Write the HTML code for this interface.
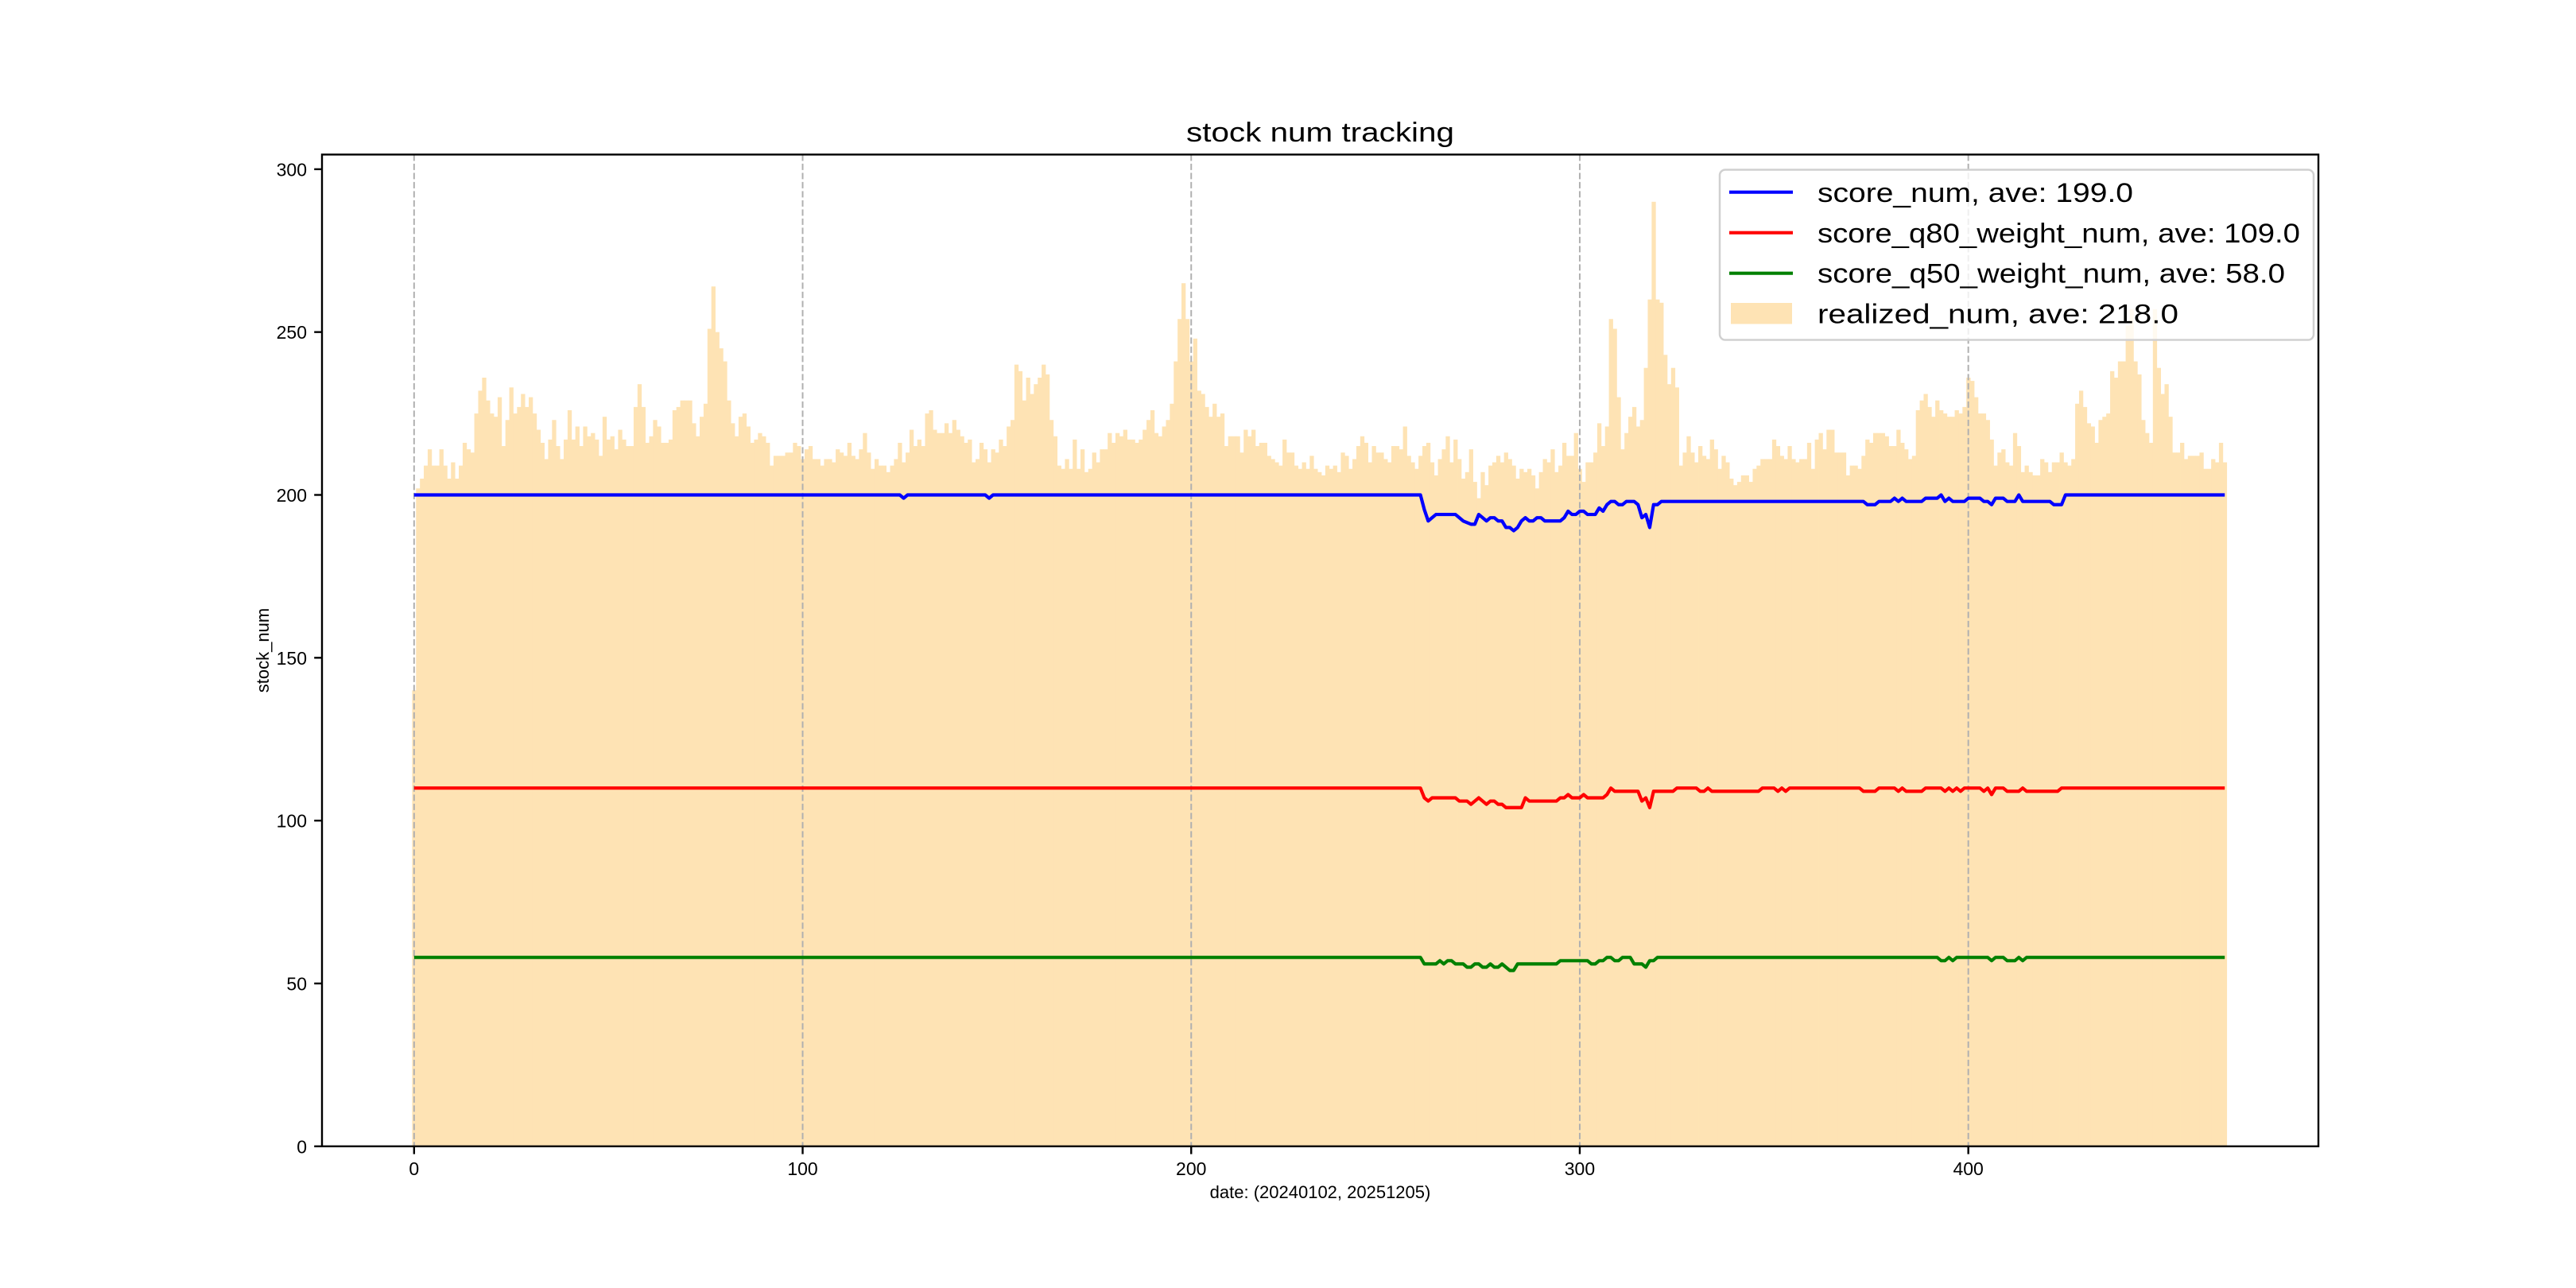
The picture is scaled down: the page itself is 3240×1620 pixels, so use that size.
<!DOCTYPE html>
<html>
<head>
<meta charset="utf-8">
<style>
  html,body{margin:0;padding:0;background:#fff;}
  svg{display:block;}
  text{font-family:"Liberation Sans","WenQuanYi Zen Hei",sans-serif;fill:#000;}
</style>
</head>
<body>
<svg id="chart" width="3240" height="1620" viewBox="0 0 3240 1620" xmlns="http://www.w3.org/2000/svg">
  <rect x="0" y="0" width="3240" height="1620" fill="#ffffff"/>
  <g id="bars"></g>
  <g id="grid"></g>
  <g id="lines"></g>
  <rect x="405" y="194.4" width="2511" height="1247.4" fill="none" stroke="#000" stroke-width="2.4"/>
  <g id="yticks"></g>
  <g id="xticks"></g>
  <text x="1660.5" y="178" font-size="34" text-anchor="middle" textLength="337" lengthAdjust="spacingAndGlyphs">stock num tracking</text>
  <text x="1660.5" y="1507" font-size="22" text-anchor="middle">date: (20240102, 20251205)</text>
  <text x="0" y="0" font-size="22" text-anchor="middle" transform="translate(338,818) rotate(-90)">stock_num</text>
  <g>
    <rect x="2163" y="213.5" width="747" height="214" rx="7" fill="#ffffff" fill-opacity="0.8" stroke="#d0d0d0" stroke-width="2.5"/>
    <line x1="2175" y1="241.7" x2="2255" y2="241.7" stroke="#0000ff" stroke-width="4.2"/>
    <text x="2286" y="254" font-size="34" textLength="397" lengthAdjust="spacingAndGlyphs">score_num, ave: 199.0</text>
    <line x1="2175" y1="292.7" x2="2255" y2="292.7" stroke="#ff0000" stroke-width="4.2"/>
    <text x="2286" y="305" font-size="34" textLength="607" lengthAdjust="spacingAndGlyphs">score_q80_weight_num, ave: 109.0</text>
    <line x1="2175" y1="343.7" x2="2255" y2="343.7" stroke="#008000" stroke-width="4.2"/>
    <text x="2286" y="355.5" font-size="34" textLength="588" lengthAdjust="spacingAndGlyphs">score_q50_weight_num, ave: 58.0</text>
    <rect x="2177" y="381" width="77" height="26.5" fill="#fee3b4"/>
    <text x="2286" y="406.5" font-size="34" textLength="454" lengthAdjust="spacingAndGlyphs">realized_num, ave: 218.0</text>
  </g>
</svg>
<script>
const realizedNum = [
140,202,205,209,214,209,209,214,209,205,210,205,209,216,214,213,225,232,236,229,
225,224,230,215,223,233,225,227,231,227,230,225,220,216,211,217,223,215,211,217,
226,217,221,215,221,218,219,217,212,224,217,218,214,220,217,215,215,227,234,227,
216,218,223,221,216,216,217,226,227,229,229,229,222,218,224,228,251,264,250,245,
241,229,222,218,224,225,221,216,217,219,218,216,209,212,212,212,213,213,216,215,
211,214,215,211,211,209,211,211,210,214,213,212,216,212,211,214,219,213,208,211,
209,209,207,209,211,216,210,213,220,215,217,215,225,226,220,219,219,222,219,223,
220,218,216,217,210,211,216,214,210,214,213,217,215,221,223,240,238,229,236,231,
234,236,240,237,223,218,209,208,211,208,217,208,214,207,208,213,210,214,214,219,
216,219,218,220,217,217,216,217,220,223,226,219,218,221,223,228,241,254,265,254,
241,248,232,231,227,224,228,224,225,215,218,218,218,213,220,218,220,215,216,216,
212,211,210,209,217,213,213,209,208,210,208,212,208,207,206,209,208,209,207,213,
212,208,211,215,218,216,210,215,213,213,211,210,215,215,214,221,212,210,208,212,
215,216,210,206,211,214,218,210,217,211,205,207,214,204,199,207,203,209,210,212,
210,213,211,209,205,208,207,208,206,202,207,211,210,214,207,209,216,212,212,219,
208,204,210,210,213,222,215,221,254,251,230,214,219,224,227,221,223,239,260,290,
260,259,243,234,239,233,209,213,218,213,210,215,212,211,217,214,208,212,210,205,
203,204,206,206,204,208,209,211,211,211,217,215,212,211,215,211,210,211,211,216,
208,217,219,214,220,220,213,213,213,206,209,209,208,212,217,216,219,219,219,218,
215,215,220,216,214,211,212,226,229,231,227,224,229,226,225,224,224,226,225,227,
236,235,230,225,225,223,217,209,213,214,210,209,219,215,207,209,207,206,206,211,
210,207,210,210,213,210,209,211,228,232,227,222,221,216,223,224,225,238,236,241,
241,252,257,241,237,223,219,216,257,239,231,234,224,213,213,216,211,212,212,212,
213,208,208,211,210,216,210
];
const scoreNum = [
200,200,200,200,200,200,200,200,200,200,200,200,200,200,200,200,200,200,200,200,
200,200,200,200,200,200,200,200,200,200,200,200,200,200,200,200,200,200,200,200,
200,200,200,200,200,200,200,200,200,200,200,200,200,200,200,200,200,200,200,200,
200,200,200,200,200,200,200,200,200,200,200,200,200,200,200,200,200,200,200,200,
200,200,200,200,200,200,200,200,200,200,200,200,200,200,200,200,200,200,200,200,
200,200,200,200,200,200,200,200,200,200,200,200,200,200,200,200,200,200,200,200,
200,200,200,200,200,200,199,200,200,200,200,200,200,200,200,200,200,200,200,200,
200,200,200,200,200,200,200,200,199,200,200,200,200,200,200,200,200,200,200,200,
200,200,200,200,200,200,200,200,200,200,200,200,200,200,200,200,200,200,200,200,
200,200,200,200,200,200,200,200,200,200,200,200,200,200,200,200,200,200,200,200,
200,200,200,200,200,200,200,200,200,200,200,200,200,200,200,200,200,200,200,200,
200,200,200,200,200,200,200,200,200,200,200,200,200,200,200,200,200,200,200,200,
200,200,200,200,200,200,200,200,200,200,200,200,200,200,200,200,200,200,200,200,
195.5,192,193,194,194,194,194,194,194,193,192,191.5,191,191,194,193,192,193,193,192,
192,190,190,189,190,192,193,192,192,193,193,192,192,192,192,192,193,195,194,194,
195,195,194,194,194,196,195,197,198,198,197,197,198,198,198,197,193,194,190,197,
197,198,198,198,198,198,198,198,198,198,198,198,198,198,198,198,198,198,198,198,
198,198,198,198,198,198,198,198,198,198,198,198,198,198,198,198,198,198,198,198,
198,198,198,198,198,198,198,198,198,198,
198,198,198,198,197,197,197,198,198,198,198,199,198,199,198,198,198,198,198,199,
199,199,199,200,198,199,198,198,198,198,199,199,199,199,198,198,197,199,199,199,
198,198,198,200,198,198,198,198,198,198,198,198,197,197,197,200,200,200,200,200,
200,200,200,200,200,200,200,200,200,200,200,200,200,200,200,200,200,200,200,200,
200,200,200,200,200,200,200,200,200,200,200,200,200,200,200,200,200
];
const scoreQ80WeightNum = [
110,110,110,110,110,110,110,110,110,110,110,110,110,110,110,110,110,110,110,110,
110,110,110,110,110,110,110,110,110,110,110,110,110,110,110,110,110,110,110,110,
110,110,110,110,110,110,110,110,110,110,110,110,110,110,110,110,110,110,110,110,
110,110,110,110,110,110,110,110,110,110,110,110,110,110,110,110,110,110,110,110,
110,110,110,110,110,110,110,110,110,110,110,110,110,110,110,110,110,110,110,110,
110,110,110,110,110,110,110,110,110,110,110,110,110,110,110,110,110,110,110,110,
110,110,110,110,110,110,110,110,110,110,110,110,110,110,110,110,110,110,110,110,
110,110,110,110,110,110,110,110,110,110,110,110,110,110,110,110,110,110,110,110,
110,110,110,110,110,110,110,110,110,110,110,110,110,110,110,110,110,110,110,110,
110,110,110,110,110,110,110,110,110,110,110,110,110,110,110,110,110,110,110,110,
110,110,110,110,110,110,110,110,110,110,110,110,110,110,110,110,110,110,110,110,
110,110,110,110,110,110,110,110,110,110,110,110,110,110,110,110,110,110,110,110,
110,110,110,110,110,110,110,110,110,110,110,110,110,110,110,110,110,110,110,110,
107,106,107,107,107,107,107,107,107,106,106,106,105,106,107,106,105,106,106,105,
105,104,104,104,104,104,107,106,106,106,106,106,106,106,106,107,107,108,107,107,
107,108,107,107,107,107,107,108,110,109,109,109,109,109,109,109,106,107,104,109,
109,109,109,109,109,110,110,110,110,110,110,109,109,110,109,109,109,109,109,109,
109,109,109,109,109,109,109,110,110,110,110,109,110,109,110,110,110,110,110,110,
110,110,110,110,110,110,110,110,110,110,110,110,110,109,109,109,109,110,110,110,
110,110,109,110,109,109,109,109,109,110,110,110,110,110,109,110,109,110,109,110,
110,110,110,110,109,110,108,110,110,110,109,109,109,109,110,109,109,109,109,109,
109,109,109,109,110,110,110,110,110,110,110,110,110,110,110,110,110,110,110,110,
110,110,110,110,110,110,110,110,110,110,110,110,110,110,110,110,110,
110,110,110,110,110,110,110,110,110,110
];
const scoreQ50WeightNum = [
58,58,58,58,58,58,58,58,58,58,58,58,58,58,58,58,58,58,58,58,
58,58,58,58,58,58,58,58,58,58,58,58,58,58,58,58,58,58,58,58,
58,58,58,58,58,58,58,58,58,58,58,58,58,58,58,58,58,58,58,58,
58,58,58,58,58,58,58,58,58,58,58,58,58,58,58,58,58,58,58,58,
58,58,58,58,58,58,58,58,58,58,58,58,58,58,58,58,58,58,58,58,
58,58,58,58,58,58,58,58,58,58,58,58,58,58,58,58,58,58,58,58,
58,58,58,58,58,58,58,58,58,58,58,58,58,58,58,58,58,58,58,58,
58,58,58,58,58,58,58,58,58,58,58,58,58,58,58,58,58,58,58,58,
58,58,58,58,58,58,58,58,58,58,58,58,58,58,58,58,58,58,58,58,
58,58,58,58,58,58,58,58,58,58,58,58,58,58,58,58,58,58,58,58,
58,58,58,58,58,58,58,58,58,58,58,58,58,58,58,58,58,58,58,58,
58,58,58,58,58,58,58,58,58,58,58,58,58,58,58,58,58,58,58,58,
58,58,58,58,58,58,58,58,58,58,58,58,58,58,58,58,58,58,58,58,
56,56,56,56,57,56,57,57,56,56,56,55,55,56,56,55,55,56,55,55,
56,55,54,54,56,56,56,56,56,56,56,56,56,56,56,57,57,57,57,57,
57,57,57,56,56,57,57,58,58,57,57,58,58,58,56,56,56,55,57,57,
58,58,58,58,58,58,58,58,58,58,58,58,58,58,58,58,58,58,58,58,
58,58,58,58,58,58,58,58,58,58,58,58,58,58,58,58,58,58,58,58,
58,58,58,58,58,58,58,58,58,58,58,58,58,58,58,58,58,58,58,58,
58,58,58,58,58,58,58,58,58,58,
58,58,58,57,57,58,57,58,58,58,58,58,58,58,58,58,57,58,58,58,
57,57,57,58,57,58,58,58,58,58,58,58,58,58,58,58,58,58,58,58,
58,58,58,58,58,58,58,58,58,58,58,58,58,58,58,58,58,58,58,58,
58,58,58,58,58,58,58,58,58,58,58,58,58,58,58,58,58
];
const yTickValues = [0, 50, 100, 150, 200, 250, 300];
const yTickLabels = ["0", "50", "100", "150", "200", "250", "300"];
const xTickValues = [0, 100, 200, 300, 400];
const xTickLabels = ["0", "100", "200", "300", "400"];

const NS = "http://www.w3.org/2000/svg";
const AX_L = 405, AX_R = 2916, AX_T = 194.4, AX_B = 1441.8;
const X_MIN = -23.7, X_MAX = 490.1, Y_MIN = 0, Y_MAX = 304.5;
function xScale(i){ return AX_L + (i - X_MIN) / (X_MAX - X_MIN) * (AX_R - AX_L); }
function yScale(v){ return AX_B - (v - Y_MIN) / (Y_MAX - Y_MIN) * (AX_B - AX_T); }
function mk(tag, attrs){ const e = document.createElementNS(NS, tag); for (const k in attrs) e.setAttribute(k, attrs[k]); return e; }

const barsG = document.getElementById('bars');
realizedNum.forEach(function(v, i){
  const x0 = xScale(i - 0.5), x1 = xScale(i + 0.5);
  const r = mk('rect', {x: x0.toFixed(2), y: yScale(v).toFixed(2), width: (x1 - x0 + 0.4).toFixed(2), height: (AX_B - yScale(v)).toFixed(2), fill: '#fee3b4'});
  
  
  barsG.appendChild(r);
});

const gridG = document.getElementById('grid');
xTickValues.forEach(function(t){
  const x = xScale(t);
  const l = mk('line', {x1: x, y1: AX_T, x2: x, y2: AX_B, stroke: '#b0b0b0', 'stroke-width': 2, 'stroke-dasharray': '8,3.5'});
  
  
  gridG.appendChild(l);
});

const linesG = document.getElementById('lines');
function drawLine(arr, color, name){
  const pts = arr.map(function(v, i){ return xScale(i).toFixed(2) + ',' + yScale(v).toFixed(2); }).join(' ');
  const p = mk('polyline', {points: pts, fill: 'none', stroke: color, 'stroke-width': 4.2, 'stroke-linejoin': 'round'});
  
  
  linesG.appendChild(p);
}
drawLine(scoreNum, '#0000ff', 'score-num-line');
drawLine(scoreQ80WeightNum, '#ff0000', 'score-q80-weight-num-line');
drawLine(scoreQ50WeightNum, '#008000', 'score-q50-weight-num-line');

const yG = document.getElementById('yticks');
yTickValues.forEach(function(t, k){
  const y = yScale(t);
  const tk = mk('line', {x1: AX_L - 9.8, y1: y, x2: AX_L, y2: y, stroke: '#000', 'stroke-width': 2.4});
  
  
  yG.appendChild(tk);
  const tx = mk('text', {x: 386, y: y + 8.5, 'font-size': 23, 'text-anchor': 'end'});
  tx.textContent = yTickLabels[k];
  
  
  yG.appendChild(tx);
});

const xG = document.getElementById('xticks');
xTickValues.forEach(function(t, k){
  const x = xScale(t);
  const tk = mk('line', {x1: x, y1: AX_B, x2: x, y2: AX_B + 9.8, stroke: '#000', 'stroke-width': 2.4});
  
  
  xG.appendChild(tk);
  const tx = mk('text', {x: x, y: 1478, 'font-size': 23, 'text-anchor': 'middle'});
  tx.textContent = xTickLabels[k];
  
  
  xG.appendChild(tx);
});
</script>
</body>
</html>
